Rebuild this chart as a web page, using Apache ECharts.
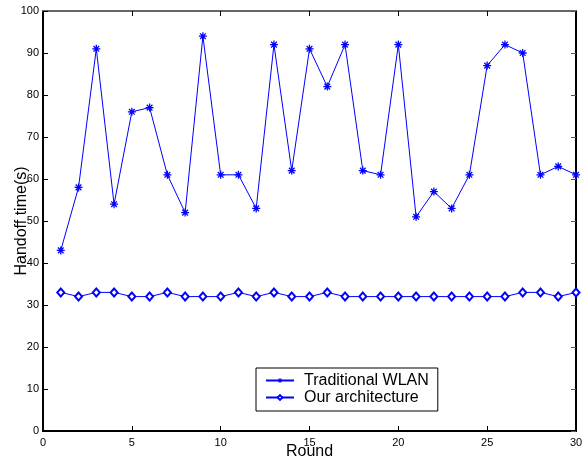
<!DOCTYPE html>
<html><head><meta charset="utf-8">
<script src="https://cdn.jsdelivr.net/npm/echarts@6/dist/echarts.min.js"></script>
<style>html,body{margin:0;padding:0;background:#fff}#c{width:582px;height:464px}</style>
</head><body><div id="c"></div>
<script>
const rounds = Array.from({length:30},(_,i)=>i+1);
const traditionalWLAN = [43,58,91,54,76,77,61,52,94,61,61,53,92,62,91,82,92,62,61,92,51,57,53,61,87,92,90,61,63,61];
const ourArchitecture = [33,32,33,33,32,32,33,32,32,32,33,32,33,32,32,33,32,32,32,32,32,32,32,32,32,32,33,33,32,33];
const xTicks = [0,5,10,15,20,25,30];
const yTicks = [0,10,20,30,40,50,60,70,80,90,100];
const seriesNames = ['Traditional WLAN','Our architecture'];

const star = 'path://M4.2,0 h1.6 v10 h-1.6 z M0,4.2 h10 v1.6 h-10 z M0.9,2.0 L2.0,0.9 L9.1,8.0 L8.0,9.1 Z M8.0,0.9 L9.1,2.0 L2.0,9.1 L0.9,8.0 Z';
const font = 'Liberation Sans, Arial, sans-serif';
const chart = echarts.init(document.getElementById('c'), null, {renderer:'canvas'});
const axisLbl = {color:'#000', fontFamily:font, fontSize:11};
chart.setOption({
  animation:false,
  backgroundColor:'#fff',
  grid:{left:43,right:6,top:11,bottom:33,outerBoundsMode:'none',containLabel:false},
  xAxis:[{
    type:'value',min:xTicks[0],max:xTicks[xTicks.length-1],interval:5,position:'bottom',
    name:'Round',nameLocation:'middle',nameGap:13,nameMoveOverlap:false,
    nameTextStyle:{color:'#000',fontFamily:font,fontSize:16},
    axisLine:{show:true,onZero:false,lineStyle:{color:'#000',width:2}},
    axisTick:{inside:true,length:5,lineStyle:{color:'#000'}},
    axisLabel:Object.assign({margin:6},axisLbl),
    splitLine:{show:false}
  },{
    type:'value',min:xTicks[0],max:xTicks[xTicks.length-1],interval:5,position:'top',
    axisLine:{show:true,onZero:false,lineStyle:{color:'#666',width:2}},
    axisTick:{inside:true,length:5,lineStyle:{color:'#000'}},
    axisLabel:{show:false},splitLine:{show:false}
  }],
  yAxis:[{
    type:'value',min:yTicks[0],max:yTicks[yTicks.length-1],interval:10,position:'left',
    name:'Handoff time(s)',nameLocation:'middle',nameGap:13,nameMoveOverlap:false,
    nameTextStyle:{color:'#000',fontFamily:font,fontSize:16},
    axisLine:{show:true,onZero:false,lineStyle:{color:'#000',width:2}},
    axisTick:{inside:true,length:5,lineStyle:{color:'#000'}},
    axisLabel:Object.assign({margin:4},axisLbl),
    splitLine:{show:false}
  },{
    type:'value',min:yTicks[0],max:yTicks[yTicks.length-1],interval:10,position:'right',
    axisLine:{show:true,onZero:false,lineStyle:{color:'#000',width:2}},
    axisTick:{inside:true,length:5,lineStyle:{color:'#555'}},
    axisLabel:{show:false},splitLine:{show:false}
  }],
  legend:{
    orient:'vertical',left:256,top:368,
    backgroundColor:'#fff',borderColor:'#000',borderWidth:1,borderRadius:0,
    padding:[4,9,5,9],itemGap:0,itemWidth:28,itemHeight:6,
    textStyle:{color:'#000',fontFamily:font,fontSize:16,lineHeight:17,padding:[0,0,0,5]},
    data:seriesNames
  },
  series:[{
    name:seriesNames[0],type:'line',
    data:rounds.map((r,i)=>[r,traditionalWLAN[i]]),
    symbol:star,symbolSize:8,
    lineStyle:{color:'#0000ff',width:1},
    itemStyle:{color:'#0000ff'}
  },{
    name:seriesNames[1],type:'line',
    data:rounds.map((r,i)=>[r,ourArchitecture[i]]),
    symbol:'emptyDiamond',symbolSize:[7,8],
    lineStyle:{color:'#0000ff',width:1},
    itemStyle:{color:'#0000ff',borderColor:'#0000ff',borderWidth:0.9}
  }]
});
</script></body></html>
